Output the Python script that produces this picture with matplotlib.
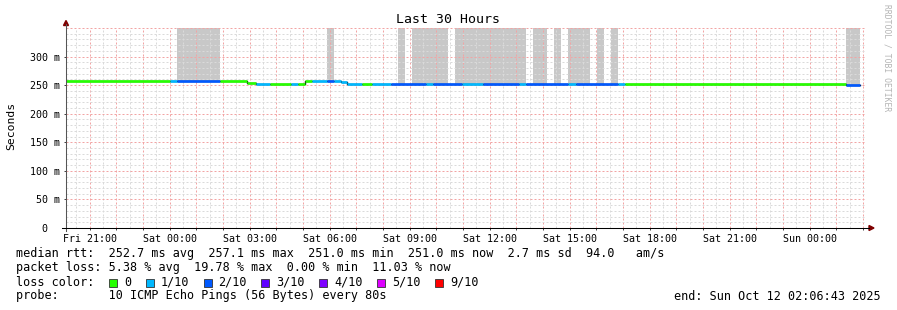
import numpy as np
import matplotlib
matplotlib.use("Agg")
import matplotlib.pyplot as plt
from matplotlib.patches import Polygon, Rectangle
from matplotlib.lines import Line2D

W, H = 897, 310

# ---------------- data ----------------
title = "Last 30 Hours"
y_label = "Seconds"
x_start_h = 20.112          # Fri 20:06:43, hours since Fri 00:00
x_end_h = 50.112            # Sun 02:06:43
xtick_hours = [21, 24, 27, 30, 33, 36, 39, 42, 45, 48]
xtick_labels = ["Fri 21:00", "Sat 00:00", "Sat 03:00", "Sat 06:00", "Sat 09:00",
                "Sat 12:00", "Sat 15:00", "Sat 18:00", "Sat 21:00", "Sun 00:00"]
ytick_values = [0, 50, 100, 150, 200, 250, 300]
ytick_labels = ["0  ", "50 m", "100 m", "150 m", "200 m", "250 m", "300 m"]
y_max = 350

# median rtt segments: start hour, loss class index, median (ms)
seg_start = [20.11, 24.00, 24.27, 25.90, 26.90, 27.24, 27.76, 28.55, 28.81, 29.07,
             29.34, 29.90, 30.16, 30.42, 30.65, 31.21, 31.59, 32.30, 33.61, 33.87,
             34.96, 35.75, 37.10, 37.36, 38.94, 39.24, 40.81, 41.07, 49.36]
seg_loss = [0, 1, 2, 0, 0, 1, 0, 1, 0, 0,
            1, 2, 1, 1, 1, 0, 1, 2, 1, 2,
            1, 2, 1, 2, 1, 2, 1, 0, 2]
seg_median = [257.1, 257.1, 257.1, 257.1, 253.2, 251.4, 251.4, 251.4, 251.4, 257.0,
              257.0, 257.0, 257.0, 255.8, 251.4, 251.4, 251.4, 251.4, 251.4, 251.4,
              251.4, 251.4, 251.4, 251.4, 251.4, 251.4, 251.4, 251.2, 251.0]
data_end_h = 49.89

# smoke (ping spread) bars: start / end hour
smoke_start = [24.27, 29.90, 32.55, 33.09, 34.70, 37.62, 38.41, 38.94, 40.02, 40.55, 49.36]
smoke_end = [25.90, 30.16, 32.82, 34.44, 37.36, 38.15, 38.67, 39.76, 40.29, 40.81, 49.89]

loss_labels = ["0", "1/10", "2/10", "3/10", "4/10", "5/10", "9/10"]
loss_colors = ["#26ff00", "#00b8ff", "#0059ff", "#5e00ff", "#7e00ff", "#dd00ff", "#ff0000"]

stat_median = "median rtt:  252.7 ms avg  257.1 ms max  251.0 ms min  251.0 ms now  2.7 ms sd  94.0   am/s"
stat_loss = "packet loss: 5.38 % avg  19.78 % max  0.00 % min  11.03 % now"
loss_heading = "loss color:"
probe_text = "probe:       10 ICMP Echo Pings (56 Bytes) every 80s"
end_text = "end: Sun Oct 12 02:06:43 2025"
watermark = "RRDTOOL / TOBI OETIKER"

# ---------------- drawing ----------------
MONO = "DejaVu Sans Mono"
fig = plt.figure(figsize=(W / 100, H / 100), dpi=100, facecolor="white")

def fx(x):
    return x / W

def fy(y):
    return 1 - y / H

L, R, T, B = 66, 866, 28, 228
ax = fig.add_axes([fx(L), fy(B), (R - L) / W, (B - T) / H])
ax.set_facecolor("white")
ax.set_xlim(x_start_h, x_end_h)
ax.set_ylim(0, y_max)
for s in ax.spines.values():
    s.set_visible(False)

# smoke bars
seg_start_arr = np.array(seg_start)
for s0, s1 in zip(smoke_start, smoke_end):
    idx = np.searchsorted(seg_start_arr, s0 + 1e-6) - 1
    base = seg_median[idx]
    ax.bar(s0, y_max + 20 - base, width=s1 - s0, bottom=base, align="edge",
           color="#c8c8c8", linewidth=0, zorder=1)

# grid
grid_kw = dict(linewidth=0.72, linestyle=(0, (2, 2)), zorder=2)
for h in np.arange(20.5, 50.2, 1.0):
    if x_start_h < h < x_end_h:
        ax.axvline(h, color="#dadada", **grid_kw)
for h in np.arange(21, 51, 1):
    if x_start_h < h < x_end_h:
        ax.axvline(h, color="#f2a4a4", **grid_kw)
for v in range(10, y_max + 1, 10):
    if v % 50:
        ax.axhline(v, color="#dadada", **grid_kw)
for v in range(50, y_max + 1, 50):
    ax.axhline(v, color="#f2a4a4", **grid_kw)

# black step outline then coloured median segments
seg_end = seg_start[1:] + [data_end_h]
xs, ys = [], []
for s0, s1, m in zip(seg_start, seg_end, seg_median):
    xs += [s0, s1]
    ys += [m, m]
ax.plot(xs, ys, color="black", linewidth=1.0, zorder=3)
for s0, s1, li, m in zip(seg_start, seg_end, seg_loss, seg_median):
    ax.plot([s0, s1], [m, m], color=loss_colors[li], linewidth=1.9,
            solid_capstyle="butt", zorder=4)

# ticks
ax.set_xticks(xtick_hours)
ax.set_xticklabels(xtick_labels, fontfamily=MONO, fontsize=7.2)
ax.set_xticks(np.arange(21, 51, 1), minor=True)
ax.set_yticks(ytick_values)
ax.set_yticklabels(ytick_labels, fontfamily=MONO, fontsize=7.2)
ax.tick_params(axis="x", which="major", length=1.5, width=0.7, pad=3.0, color="#404040")
ax.tick_params(axis="x", which="minor", length=1.5, width=0.7, color="#404040")
ax.tick_params(axis="y", which="major", length=1.5, width=0.7, pad=3.0, color="#404040")

# axes lines and arrows
fig.add_artist(Line2D([fx(L), fx(L)], [fy(231), fy(24)], color="#555555", linewidth=0.75))
fig.add_artist(Line2D([fx(62), fx(869)], [fy(B), fy(B)], color="#000000", linewidth=0.75))
fig.add_artist(Polygon([[fx(63.5), fy(25.5)], [fx(68.5), fy(25.5)], [fx(66), fy(20.5)]],
                       closed=True, color="#7f0000", transform=fig.transFigure))
fig.add_artist(Polygon([[fx(869), fy(225.5)], [fx(869), fy(230.5)], [fx(874), fy(228)]],
                       closed=True, color="#7f0000", transform=fig.transFigure))

# title / labels
fig.text(fx(448), fy(19.5), title, ha="center", va="center", fontfamily=MONO, fontsize=9.5)
fig.text(fx(11), fy(126), y_label, ha="center", va="center", rotation=90,
         fontfamily=MONO, fontsize=8.2)
fig.text(fx(886.5), fy(4), watermark, ha="center", va="top", rotation=270,
         fontfamily=MONO, fontsize=5.8, color="#b4b4b4")

# legend / stats
LF = 8.5
CW = 7.1
fig.text(fx(16), fy(254), stat_median, ha="left", va="center", fontfamily=MONO, fontsize=LF)
fig.text(fx(16), fy(268), stat_loss, ha="left", va="center", fontfamily=MONO, fontsize=LF)
fig.text(fx(16), fy(282), loss_heading, ha="left", va="center", fontfamily=MONO, fontsize=LF)
bx = 109
for lab, col in zip(loss_labels, loss_colors):
    fig.add_artist(Rectangle((fx(bx), fy(286.5)), 8 / W, 8 / H, transform=fig.transFigure,
                             facecolor=col, edgecolor="#333333", linewidth=0.6))
    fig.text(fx(bx + 15), fy(282), lab, ha="left", va="center", fontfamily=MONO, fontsize=LF)
    bx = bx + 15 + CW * len(lab) + 14.5
fig.text(fx(16), fy(296), probe_text, ha="left", va="center", fontfamily=MONO, fontsize=LF)
fig.text(fx(881), fy(296), end_text, ha="right", va="center", fontfamily=MONO, fontsize=LF)

fig.savefig("out.png", dpi=100, facecolor="white")
